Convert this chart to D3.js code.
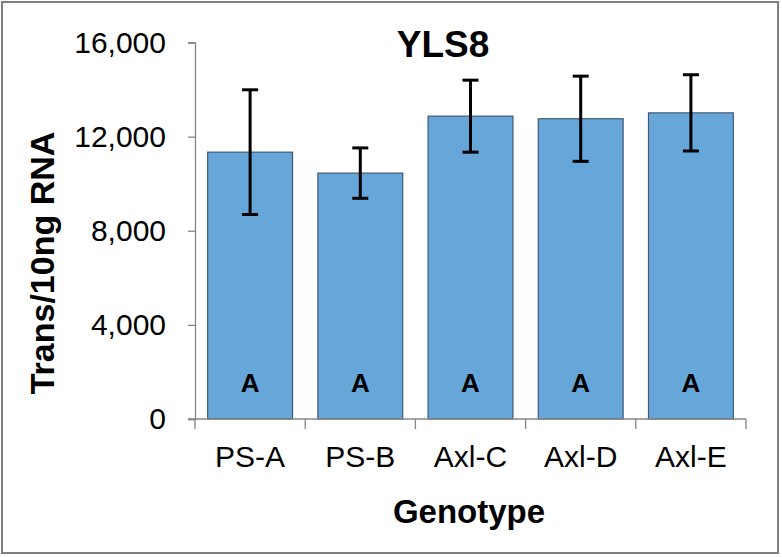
<!DOCTYPE html>
<html>
<head>
<meta charset="utf-8">
<script src="https://cdn.jsdelivr.net/npm/d3@7"></script>
<style>
  body { margin: 0; background: #fff; }
  svg { display: block; font-family: "Liberation Sans", Arial, sans-serif; }
</style>
</head>
<body>
<svg id="chart" width="782" height="557"></svg>
<script>
const categories = ["PS-A", "PS-B", "Axl-C", "Axl-D", "Axl-E"];
const means = [11340, 10450, 12870, 12760, 13010];
const errors = [2650, 1070, 1530, 1810, 1620];
const letters = ["A", "A", "A", "A", "A"];
const yTicks = [0, 4000, 8000, 12000, 16000];
const title = "YLS8";
const xTitle = "Genotype";
const yTitle = "Trans/10ng RNA";

const svg = d3.select("#chart");
const W = 782, H = 557;
const plot = { left: 195, right: 746, top: 42.5, bottom: 419 };

svg.append("rect").attr("x", 0).attr("y", 0).attr("width", W).attr("height", H).attr("fill", "#fff");
svg.append("rect").attr("x", 2).attr("y", 2).attr("width", 776).attr("height", 551)
  .attr("fill", "none").attr("stroke", "#7f7f7f").attr("stroke-width", 2);

const x = d3.scaleBand().domain(categories).range([plot.left, plot.right])
  .paddingInner(0.23).paddingOuter(0.115);
const y = d3.scaleLinear().domain([0, 16000]).range([plot.bottom, plot.top]);

const axisColor = "#868686";

// y axis
const yAxis = svg.append("g").attr("transform", `translate(${plot.left},0)`)
  .call(d3.axisLeft(y).tickValues(yTicks).tickSize(7).tickPadding(22).tickFormat(d3.format(",")));
yAxis.select(".domain").attr("stroke", axisColor).attr("stroke-width", 1.3);
yAxis.selectAll(".tick line").attr("stroke", axisColor).attr("stroke-width", 1.3);
yAxis.selectAll(".tick text").attr("font-size", 30).attr("fill", "#000")
  .attr("font-family", "'Liberation Sans', Arial, sans-serif");

// bars
svg.append("g").selectAll("rect").data(categories).join("rect")
  .attr("x", d => x(d))
  .attr("y", (d, i) => y(means[i]))
  .attr("width", x.bandwidth())
  .attr("height", (d, i) => y(0) - y(means[i]))
  .attr("fill", "#67a6d9")
  .attr("stroke", "#3e5a75")
  .attr("stroke-width", 1.2);

// x axis line and boundary ticks
const step = x.step();
const bounds = categories.map(d => x(d) - step * x.paddingInner() / 2).concat([plot.right]);
svg.append("line").attr("x1", plot.left - 7).attr("x2", plot.right)
  .attr("y1", y(0)).attr("y2", y(0)).attr("stroke", axisColor).attr("stroke-width", 1.3);
svg.append("g").selectAll("line").data(bounds).join("line")
  .attr("x1", d => d).attr("x2", d => d)
  .attr("y1", y(0)).attr("y2", y(0) + 10)
  .attr("stroke", axisColor).attr("stroke-width", 1.3);

// category labels
svg.append("g").selectAll("text").data(categories).join("text")
  .attr("x", d => x(d) + x.bandwidth() / 2)
  .attr("y", 467)
  .attr("text-anchor", "middle")
  .attr("font-size", 30)
  .text(d => d);

// error bars
const eb = svg.append("g").attr("stroke", "#000").attr("stroke-width", 3);
categories.forEach((c, i) => {
  const cx = x(c) + x.bandwidth() / 2;
  const hi = y(means[i] + errors[i]), lo = y(means[i] - errors[i]);
  eb.append("line").attr("x1", cx).attr("x2", cx).attr("y1", hi).attr("y2", lo);
  eb.append("line").attr("x1", cx - 8).attr("x2", cx + 8).attr("y1", hi).attr("y2", hi);
  eb.append("line").attr("x1", cx - 8).attr("x2", cx + 8).attr("y1", lo).attr("y2", lo);
});

// letters inside bars
svg.append("g").selectAll("text").data(categories).join("text")
  .attr("x", d => x(d) + x.bandwidth() / 2)
  .attr("y", 392)
  .attr("text-anchor", "middle")
  .attr("font-size", 26)
  .attr("font-weight", "bold")
  .text((d, i) => letters[i]);

// title
svg.append("text").attr("x", 443).attr("y", 57).attr("text-anchor", "middle")
  .attr("font-size", 37).attr("font-weight", "bold").text(title);

// x title
svg.append("text").attr("x", 469).attr("y", 523).attr("text-anchor", "middle")
  .attr("font-size", 33).attr("font-weight", "bold").text(xTitle);

// y title
svg.append("text").attr("transform", "translate(54,263) rotate(-90)")
  .attr("text-anchor", "middle")
  .attr("font-size", 34).attr("font-weight", "bold").text(yTitle);
</script>
</body>
</html>
